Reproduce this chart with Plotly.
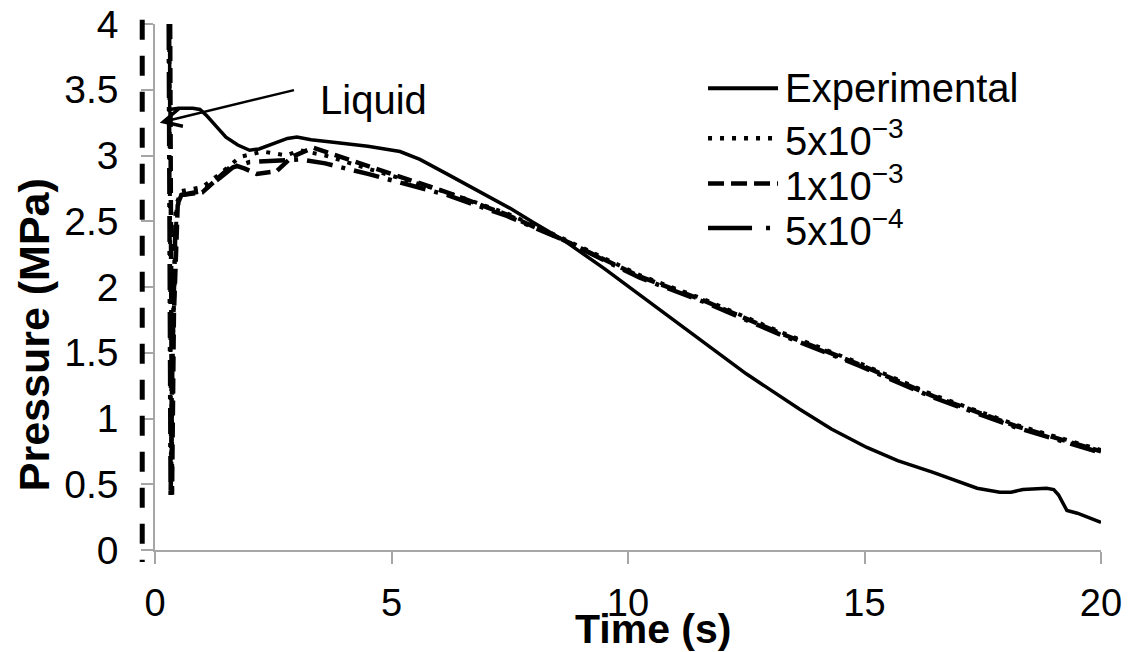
import plotly.graph_objects as go

# ---- data ----
time_exp = [0.31, 0.31, 0.5, 0.8, 0.95, 1.1, 1.3, 1.5, 1.75, 2.0, 2.2, 2.5, 2.8, 3.0, 3.3,
            3.77, 4.5, 5.18, 5.6, 6.17, 7.0, 7.5, 8.0, 8.62, 9.5, 10.32, 11.0, 11.52, 12.5,
            13.63, 14.3, 15.05, 15.7, 16.45, 17.38, 17.86, 18.1, 18.35, 18.85, 19.0, 19.1,
            19.28, 19.5, 20.0]
p_exp = [4.0, 3.35, 3.36, 3.36, 3.35, 3.3, 3.22, 3.14, 3.08, 3.04, 3.05, 3.09, 3.13, 3.14, 3.12,
         3.1, 3.07, 3.03, 2.97, 2.86, 2.7, 2.6, 2.49, 2.36, 2.14, 1.92, 1.74, 1.6, 1.34,
         1.07, 0.92, 0.78, 0.68, 0.59, 0.47, 0.44, 0.44, 0.46, 0.47, 0.46, 0.42,
         0.3, 0.28, 0.21]

time_5e3 = [0.30, 0.34, 0.38, 0.46, 0.56, 1.0, 1.37, 1.8, 2.28, 2.78, 3.06, 3.6, 4.5, 6.17,
            7.44, 8.62, 10.25, 11.58, 13.21, 14.9, 16.45, 18.22, 20.0]
p_5e3 = [4.0, 0.45, 1.6, 2.64, 2.73, 2.76, 2.86, 2.99, 3.03, 3.0, 3.04, 3.0, 2.9, 2.72,
         2.56, 2.37, 2.09, 1.91, 1.66, 1.42, 1.18, 0.95, 0.76]

time_1e3 = [0.32, 0.36, 0.40, 0.48, 0.56, 1.0, 1.37, 1.65, 1.9, 2.15, 2.57, 2.9, 3.34, 4.0,
            4.8, 6.17, 7.44, 8.62, 10.25, 11.58, 13.21, 14.9, 16.45, 18.22, 20.0]
p_1e3 = [4.0, 0.42, 1.8, 2.62, 2.70, 2.72, 2.84, 2.93, 2.9, 2.86, 2.88, 2.99, 3.06, 2.98,
         2.88, 2.72, 2.55, 2.36, 2.08, 1.9, 1.65, 1.41, 1.17, 0.94, 0.75]

time_5e4 = [0.29, 0.33, 0.37, 0.44, 0.56, 1.0, 1.37, 1.65, 2.0, 2.5, 3.06, 3.6, 4.5, 6.17,
            7.44, 8.62, 10.25, 11.58, 13.21, 14.9, 16.45, 18.22, 20.0]
p_5e4 = [4.0, 0.40, 1.5, 2.60, 2.70, 2.73, 2.83, 2.91, 2.95, 2.96, 2.97, 2.94, 2.86, 2.70,
         2.54, 2.36, 2.07, 1.89, 1.64, 1.40, 1.16, 0.93, 0.74]

series_names = ["Experimental", "5x10<sup>−3</sup>", "1x10<sup>−3</sup>", "5x10<sup>−4</sup>"]
x_ticks = [0, 5, 10, 15, 20]
y_ticks = [0, 0.5, 1, 1.5, 2, 2.5, 3, 3.5, 4]

FONT = "Liberation Sans, Arial, sans-serif"
AX = "#a6a6a6"

styles = {
    "Experimental": dict(width=3.5, dash="solid", legend_dash="solid"),
    "5x10<sup>−3</sup>": dict(width=4, dash="4px,8px", legend_dash="4px,8px"),
    "1x10<sup>−3</sup>": dict(width=4.5, dash="15px,7px", legend_dash="16px,7px"),
    "5x10<sup>−4</sup>": dict(width=4.5, dash="26px,9px,4px,9px", legend_dash="44px,14px,4px,14px"),
}

series = [
    (series_names[1], time_5e3, p_5e3),
    (series_names[2], time_1e3, p_1e3),
    (series_names[3], time_5e4, p_5e4),
    (series_names[0], time_exp, p_exp),
]

fig = go.Figure()
for name, t, p in series:
    st = styles[name]
    fig.add_trace(go.Scatter(x=t, y=p, mode="lines", name=name, showlegend=False,
                             line=dict(color="black", width=st["width"], dash=st["dash"])))

# legend drawn as line samples + labels (longer samples, as in the reference)
leg_y = [0.878, 0.783, 0.697, 0.612]
for name, yy in zip(series_names, leg_y):
    st = styles[name]
    fig.add_shape(type="line", xref="paper", yref="paper", x0=0.5846, x1=0.6586, y0=yy, y1=yy,
                  line=dict(color="black", width=4.5 if name != "Experimental" else 4,
                            dash=st["legend_dash"]))
    fig.add_annotation(x=0.664, y=yy, xref="paper", yref="paper", text=name, showarrow=False,
                       xanchor="left", yanchor="middle",
                       font=dict(family=FONT, size=40, color="black"))

# "Liquid" arrow and label
fig.add_annotation(x=0.1, y=3.25, ax=2.97, ay=3.5, axref="x", ayref="y", xref="x", yref="y",
                   text="", showarrow=True, arrowhead=5, arrowsize=1.4, arrowwidth=2.5,
                   arrowcolor="black", standoff=0)
fig.add_annotation(x=3.44, y=3.42, xref="x", yref="y", text="Liquid", showarrow=False,
                   xanchor="left", yanchor="middle", font=dict(family=FONT, size=40, color="black"))

# axis titles
fig.add_annotation(x=-0.128, y=0.41, xref="paper", yref="paper", text="<b>Pressure (MPa)</b>",
                   textangle=-90, showarrow=False, xanchor="center", yanchor="middle",
                   font=dict(family=FONT, size=43, color="black"))
fig.add_annotation(x=0.526, y=-0.150, xref="paper", yref="paper", text="<b>Time (s)</b>",
                   showarrow=False, xanchor="center", yanchor="middle",
                   font=dict(family=FONT, size=41, color="black"))

# dashed vertical line left of the y axis
fig.add_shape(type="line", xref="paper", yref="paper", x0=-0.0135, x1=-0.0135, y0=1.008, y1=-0.023,
              line=dict(color="black", width=5, dash="20px,16px"))

fig.update_layout(
    width=1142, height=652,
    margin=dict(l=155, r=41, t=24, b=102, autoexpand=False),
    paper_bgcolor="white", plot_bgcolor="white",
    font=dict(family=FONT, size=38, color="black"),
    showlegend=False,
    xaxis=dict(range=[0, 20], tickvals=x_ticks, ticks="outside", ticklen=12, tickcolor=AX,
               tickwidth=1.5, showline=True, linecolor=AX, linewidth=1.5, showgrid=False,
               zeroline=False, ticklabelstandoff=7,
               tickfont=dict(family=FONT, size=38, color="black")),
    yaxis=dict(range=[0, 4], tickvals=y_ticks, ticks="outside", ticklen=12, tickcolor=AX,
               tickwidth=1.5, showline=True, linecolor=AX, linewidth=1.5, showgrid=False,
               zeroline=False, ticklabelstandoff=15,
               tickfont=dict(family=FONT, size=39, color="black")),
)

fig.write_html("out.html", config={"displayModeBar": False},
               post_script="document.body.style.margin='0';")
